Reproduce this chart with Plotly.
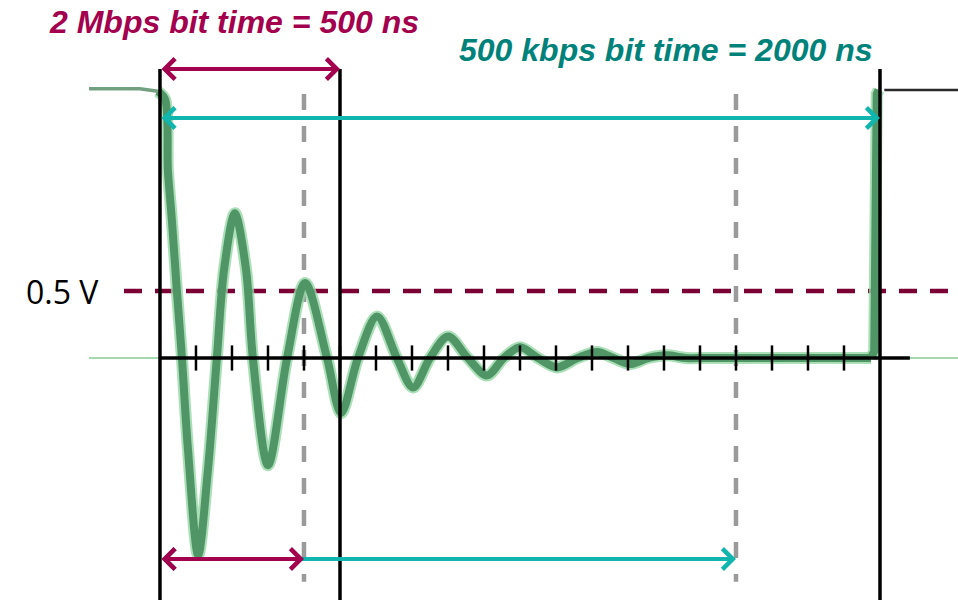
import plotly.graph_objects as go

# ---------------- data ----------------
# ringing waveform after the dominant->recessive edge (time in ns, voltage in V)
wave_t = [-6, 14, 22, 33, 47, 61, 78, 106, 133, 158, 178, 208, 239, 258, 300,
          353, 403, 464, 503, 550, 603, 658, 703, 750, 800, 855, 908, 955, 1000,
          1050, 1103, 1160, 1214, 1260, 1306, 1356, 1408, 1460, 1520, 1700, 1975]
wave_v = [1.99, 1.93, 1.40, 1.03, 0.50, 0.00, -0.69, -1.47, -0.84, 0.00, 0.66,
          1.08, 0.66, 0.00, -0.80, 0.00, 0.56, 0.00, -0.41, 0.00, 0.31, 0.00,
          -0.22, 0.00, 0.16, 0.00, -0.13, 0.00, 0.08, 0.00, -0.07, 0.00, 0.045,
          0.00, -0.045, 0.00, 0.02, 0.00, 0.00, 0.00, 0.00]
# idle level before the edge and the next rising edge
pre_t = [-197, -56, -6]
pre_v = [2.01, 2.01, 1.99]
edge_t = [1975, 1984, 1991, 1996]
edge_v = [0.00, 0.05, 1.97, 2.00]
post_t = [2012, 2217]
post_v = [2.00, 2.00]
baseline_t = [-197, 2217]
baseline_v = [0.0, 0.0]

bit_2m_ns = 500          # 2 Mbps bit time
bit_500k_ns = 2000       # 500 kbps bit time
sample_2m_ns = 400       # sample point (80 %)
sample_500k_ns = 1600    # sample point (80 %)
threshold_v = 0.5
tick_ns = [100, 200, 300, 400, 500, 600, 700, 800, 900, 1000, 1100, 1200,
           1300, 1400, 1500, 1600, 1700, 1800, 1900]
axis_end_ns = 2083

label_2m = "2 Mbps bit time = 500 ns"
label_500k = "500 kbps bit time = 2000 ns"
label_thr = "0.5 V"

# ---------------- style ----------------
MAROON = "#a3004d"
MAROON_DARK = "#7b0034"
TEAL_TXT = "#00827a"
TEAL = "#10b5ad"
GREEN = "#4f9566"
GLOW = "rgba(150,215,165,0.8)"
GRAY = "#9a9a9a"

X_RANGE = [-444.4, 2216.7]
Y_RANGE = [-1.806, 2.6716]

fig = go.Figure()

# thin light-green baseline of the trace
fig.add_trace(go.Scatter(x=baseline_t, y=baseline_v, mode="lines",
                         line=dict(color="#a6d8b0", width=2), hoverinfo="skip"))
# idle high level (thin)
fig.add_trace(go.Scatter(x=pre_t, y=pre_v, mode="lines",
                         line=dict(color="#72a080", width=3.5), hoverinfo="skip"))
fig.add_trace(go.Scatter(x=post_t, y=post_v, mode="lines",
                         line=dict(color="#2a2a2a", width=2.5), hoverinfo="skip"))
# ringing trace: glow + core
for col, w in [(GLOW, 12), (GREEN, 8)]:
    fig.add_trace(go.Scatter(x=wave_t, y=wave_v, mode="lines",
                             line=dict(color=col, width=w, shape="spline", smoothing=0.9),
                             hoverinfo="skip"))
    fig.add_trace(go.Scatter(x=edge_t, y=edge_v, mode="lines",
                             line=dict(color=col, width=w), hoverinfo="skip"))

shapes = []
# threshold dashed line
shapes.append(dict(type="line", xref="x", yref="y", x0=-100, x1=X_RANGE[1],
                   y0=threshold_v, y1=threshold_v,
                   line=dict(color=MAROON_DARK, width=4.5, dash="18px,13px"), layer="below"))
# sample point dashed lines
for s in [sample_2m_ns, sample_500k_ns]:
    shapes.append(dict(type="line", xref="x", yref="y", x0=s, x1=s, y0=1.97, y1=-1.67,
                       line=dict(color=GRAY, width=4.5, dash="16px,16px"), layer="below"))
# bit boundaries (solid black)
for b in [0, bit_2m_ns, bit_500k_ns]:
    shapes.append(dict(type="line", xref="x", yref="y", x0=b, x1=b, y0=2.157, y1=-2.0,
                       line=dict(color="black", width=3.5)))
# time axis
shapes.append(dict(type="line", xref="x", yref="y", x0=0, x1=axis_end_ns, y0=0, y1=0,
                   line=dict(color="black", width=3.5)))
fig.update_layout(shapes=shapes)

# tick marks
fig.add_trace(go.Scatter(x=tick_ns, y=[0] * len(tick_ns), mode="markers",
                         marker=dict(symbol="line-ns", size=18,
                                     line=dict(color="black", width=2.5)),
                         hoverinfo="skip"))

annotations = []
def arrow(x0, x1, y, color):
    annotations.append(dict(x=x1, y=y, ax=x0, ay=y, xref="x", yref="y",
                            axref="x", ayref="y", text="", showarrow=True,
                            arrowhead=4, startarrowhead=4, arrowside="end+start",
                            arrowsize=1.0, startarrowsize=1.0,
                            arrowwidth=4, arrowcolor=color, standoff=0, startstandoff=0))

arrow(0, bit_500k_ns, 1.791, TEAL)
arrow(0, bit_2m_ns, 2.157, MAROON)
arrow(0, sample_500k_ns, -1.50, TEAL)
arrow(0, sample_2m_ns, -1.50, MAROON)

annotations.append(dict(x=205.6, y=2.505, xref="x", yref="y", text=label_2m,
                        showarrow=False, xanchor="center", yanchor="middle",
                        font=dict(family="Liberation Sans, Arial", size=32,
                                  color=MAROON, weight="bold", style="italic")))
annotations.append(dict(x=1405.6, y=2.30, xref="x", yref="y", text=label_500k,
                        showarrow=False, xanchor="center", yanchor="middle",
                        font=dict(family="Liberation Sans, Arial", size=32,
                                  color=TEAL_TXT, weight="bold", style="italic")))
annotations.append(dict(x=-272, y=threshold_v, xref="x", yref="y", text=label_thr,
                        showarrow=False, xanchor="center", yanchor="middle",
                        font=dict(family="Open Sans, Noto Sans", size=32, color="black")))

fig.update_layout(
    annotations=annotations,
    width=958, height=600,
    margin=dict(l=0, r=0, t=0, b=0),
    paper_bgcolor="white", plot_bgcolor="white",
    showlegend=False,
    xaxis=dict(range=X_RANGE, visible=False, fixedrange=True),
    yaxis=dict(range=Y_RANGE, visible=False, fixedrange=True),
)

fig.write_html("out.html")
